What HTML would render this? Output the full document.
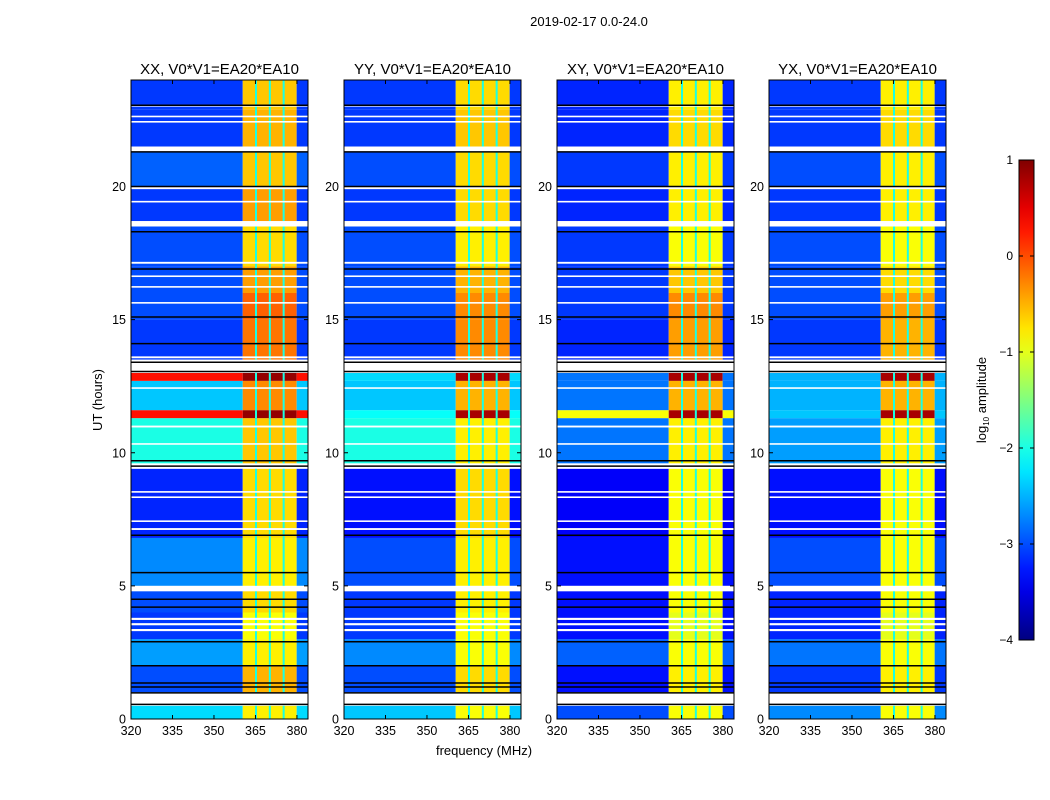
<!DOCTYPE html>
<html><head><meta charset="utf-8"><style>
body{margin:0;background:#fff;}
svg{display:block;font-family:"Liberation Sans",sans-serif;}
</style></head><body>
<svg id="fig" width="1050" height="800" viewBox="0 0 1050 800" xmlns="http://www.w3.org/2000/svg">
<rect width="1050" height="800" fill="#fff"/>
<text x="589" y="26" font-size="13" text-anchor="middle">2019-02-17 0.0-24.0</text>
<text transform="translate(102,400) rotate(-90)" font-size="13" text-anchor="middle">UT (hours)</text>
<text x="484" y="755" font-size="13" text-anchor="middle">frequency (MHz)</text>
<g id="panels"></g>
<g id="cbar"></g>
</svg>
<script>
// ---- data ----
const panelNames = ["XX, V0*V1=EA20*EA10","YY, V0*V1=EA20*EA10","XY, V0*V1=EA20*EA10","YX, V0*V1=EA20*EA10"];
const segStart = [0,1.0,2.0,3.0,4.0,5.0,6.8,9.6,11.3,11.6,12.7,13.5,15.0,16.0,17.0,18.7,20.0,21.5,22.9];
const segEnd   = [0.5,2.0,3.0,4.0,4.8,6.8,9.4,11.3,11.6,12.7,13.0,15.0,16.0,17.0,18.5,20.0,21.3,22.9,24.0];
const bgXX = [-2.3,-3.0,-2.6,-3.1,-3.0,-2.7,-3.2,-2.0,0.3,-2.4,0.3,-3.1,-3.0,-3.0,-3.0,-3.1,-2.9,-3.1,-3.1];
const bgYY = [-2.4,-3.0,-2.7,-3.1,-3.1,-3.0,-3.3,-2.0,-2.1,-2.4,-2.3,-3.1,-3.0,-3.0,-3.0,-3.1,-3.0,-3.1,-3.1];
const bgXY = [-3.0,-3.3,-2.9,-3.3,-3.3,-3.3,-3.4,-2.8,-0.9,-2.8,-2.8,-3.2,-3.1,-3.1,-3.1,-3.2,-3.1,-3.2,-3.2];
const bgYX = [-2.7,-3.1,-2.8,-3.2,-3.2,-3.0,-3.3,-2.6,-2.4,-2.5,-2.5,-3.1,-3.0,-3.0,-3.0,-3.1,-3.0,-3.1,-3.1];
const bandXX = [-0.8,-0.5,-0.8,-0.9,-0.7,-0.8,-0.7,-0.6,0.9,-0.3,0.9,-0.2,-0.1,-0.4,-0.7,-0.4,-0.6,-0.5,-0.6];
const bandYY = [-0.9,-0.7,-0.9,-0.9,-0.8,-0.8,-0.7,-0.8,0.8,-0.5,0.8,-0.3,-0.3,-0.5,-0.8,-0.7,-0.7,-0.6,-0.7];
const bandXY = [-0.9,-0.8,-0.9,-1.0,-0.9,-0.9,-0.9,-0.8,0.8,-0.5,0.8,-0.4,-0.3,-0.6,-0.9,-0.8,-0.8,-0.7,-0.8];
const bandYX = [-0.9,-0.8,-0.9,-1.0,-0.9,-0.9,-0.9,-0.8,0.8,-0.5,0.8,-0.5,-0.4,-0.7,-0.9,-0.8,-0.8,-0.7,-0.8];
const bgLevels = [bgXX,bgYY,bgXY,bgYX];
const bandLevels = [bandXX,bandYY,bandXY,bandYX];
const bandFreqStart = 360.4, bandFreqEnd = 379.9;
const sepFreqs = [365.2,370.2,375.2];
const sepLevel = -2.0;
const gapStart = [0.5,3.3,3.52,3.72,4.8,7.1,7.4,8.3,8.5,9.4,10.3,10.95,12.4,13.0,13.55,15.6,16.2,16.6,17.1,18.5,19.4,19.9,21.3,22.4,22.6,23.0];
const gapEnd   = [1.0,3.38,3.6,3.8,5.0,7.17,7.46,8.36,8.56,9.6,10.36,11.02,12.46,13.1,13.62,15.66,16.26,16.66,17.17,18.7,19.46,19.98,21.5,22.46,22.66,23.08];
const blackLines = [0.55,0.98,1.2,1.35,2.0,2.9,4.2,4.5,5.5,6.9,9.5,9.7,13.05,13.4,14.1,15.1,16.9,18.3,20.0,21.3,23.05];
const xTicks = [320,335,350,365,380];
const yTicks = [0,5,10,15,20];
const cbTicks = [1,0,-1,-2,-3,-4];
const cbLabels = ["1","0","\u22121","\u22122","\u22123","\u22124"];
// ---- layout ----
const NS="http://www.w3.org/2000/svg";
const axLeft=[131,344,557,769], axW=177, axTop=80, axBot=719;
const fMin=320,fMax=384,tMin=0,tMax=24;
function jet(v){
  let t=(v+4)/5; t=Math.max(0,Math.min(1,t));
  const r=Math.max(0,Math.min(1,1.5-Math.abs(4*t-3)));
  const g=Math.max(0,Math.min(1,1.5-Math.abs(4*t-2)));
  const b=Math.max(0,Math.min(1,1.5-Math.abs(4*t-1)));
  return `rgb(${Math.round(r*255)},${Math.round(g*255)},${Math.round(b*255)})`;
}
function mk(tag,attrs,parent){const e=document.createElementNS(NS,tag);for(const k in attrs)e.setAttribute(k,attrs[k]);parent.appendChild(e);return e;}
const panels=document.getElementById('panels');
panelNames.forEach((name,p)=>{
  const L=axLeft[p];
  const xs=f=>L+(f-fMin)/(fMax-fMin)*axW;
  const ys=t=>axBot-(t-tMin)/(tMax-tMin)*(axBot-axTop);
  const g=mk('g',{},panels);
  
  
  mk('rect',{x:L,y:axTop,width:axW,height:axBot-axTop,fill:'#fff'},g);
  const bg=bgLevels[p], bd=bandLevels[p];
  for(let i=0;i<segStart.length;i++){
    const y0=ys(segEnd[i]), y1=ys(segStart[i]);
    const c1=mk('rect',{x:xs(fMin),y:y0,width:xs(bandFreqStart)-xs(fMin),height:y1-y0,fill:jet(bg[i])},g);
    
    
    const c2=mk('rect',{x:xs(bandFreqStart),y:y0,width:xs(bandFreqEnd)-xs(bandFreqStart),height:y1-y0,fill:jet(bd[i])},g);
    
    
    const c3=mk('rect',{x:xs(bandFreqEnd),y:y0,width:xs(fMax)-xs(bandFreqEnd),height:y1-y0,fill:jet(bg[i])},g);
    
    
    sepFreqs.forEach(f=>{
      const s=mk('rect',{x:xs(f)-1,y:y0,width:2,height:y1-y0,fill:jet(sepLevel)},g);
      
      
    });
  }
  for(let i=0;i<gapStart.length;i++){
    const r=mk('rect',{x:L,y:ys(gapEnd[i]),width:axW,height:ys(gapStart[i])-ys(gapEnd[i]),fill:'#fff'},g);
    
    
  }
  blackLines.forEach(t=>{
    const l=mk('line',{x1:L,x2:L+axW,y1:ys(t),y2:ys(t),stroke:'#000','stroke-width':1.5},g);
    
    
  });
  const fr=mk('rect',{x:L,y:axTop,width:axW,height:axBot-axTop,fill:'none',stroke:'#000','stroke-width':1},g);
  
  
  const tt=mk('text',{x:L+axW/2,y:axTop-6,'font-size':15,'text-anchor':'middle'},g);
  tt.textContent=name;
  
  
  xTicks.forEach(v=>{
    const x=xs(v);
    mk('line',{x1:x,x2:x,y1:axBot,y2:axBot-4,stroke:'#000'},g);
    mk('line',{x1:x,x2:x,y1:axTop,y2:axTop+4,stroke:'#000'},g);
    const t=mk('text',{x:x,y:axBot+16,'font-size':12.5,'text-anchor':'middle'},g);
    t.textContent=v;
    
    
  });
  yTicks.forEach(v=>{
    const y=ys(v);
    mk('line',{x1:L,x2:L+4,y1:y,y2:y,stroke:'#000'},g);
    mk('line',{x1:L+axW,x2:L+axW-4,y1:y,y2:y,stroke:'#000'},g);
    const t=mk('text',{x:L-5,y:y+4.5,'font-size':12.5,'text-anchor':'end'},g);
    t.textContent=v;
    
    
  });
});
// colorbar
const cb=document.getElementById('cbar');


const cbX=1019,cbW=15,cbTop=160,cbBot=640,cbMax=1,cbMin=-4;
const cy=v=>cbTop+(cbMax-v)/(cbMax-cbMin)*(cbBot-cbTop);
const defs=mk('defs',{},cb);
const grad=mk('linearGradient',{id:'jetg',x1:0,y1:1,x2:0,y2:0},defs);
for(let i=0;i<=20;i++){const v=cbMin+i*(cbMax-cbMin)/20;mk('stop',{offset:(i/20),'stop-color':jet(v)},grad);}
mk('rect',{x:cbX,y:cbTop,width:cbW,height:cbBot-cbTop,fill:'url(#jetg)',stroke:'#000','stroke-width':1},cb);
cbTicks.forEach((v,i)=>{
  const y=cy(v);
  mk('line',{x1:cbX,x2:cbX+4,y1:y,y2:y,stroke:'#000'},cb);
  mk('line',{x1:cbX+cbW,x2:cbX+cbW-4,y1:y,y2:y,stroke:'#000'},cb);
  const t=mk('text',{x:1013,y:y+4,'font-size':12,'text-anchor':'end'},cb);
  t.textContent=cbLabels[i];
  
  
});
const cl=mk('text',{transform:'translate(986,400) rotate(-90)','font-size':13,'text-anchor':'middle'},cb);
cl.innerHTML='log<tspan font-size="8" dy="3">10</tspan><tspan dy="-3"> amplitude</tspan>';


</script>
</body></html>
